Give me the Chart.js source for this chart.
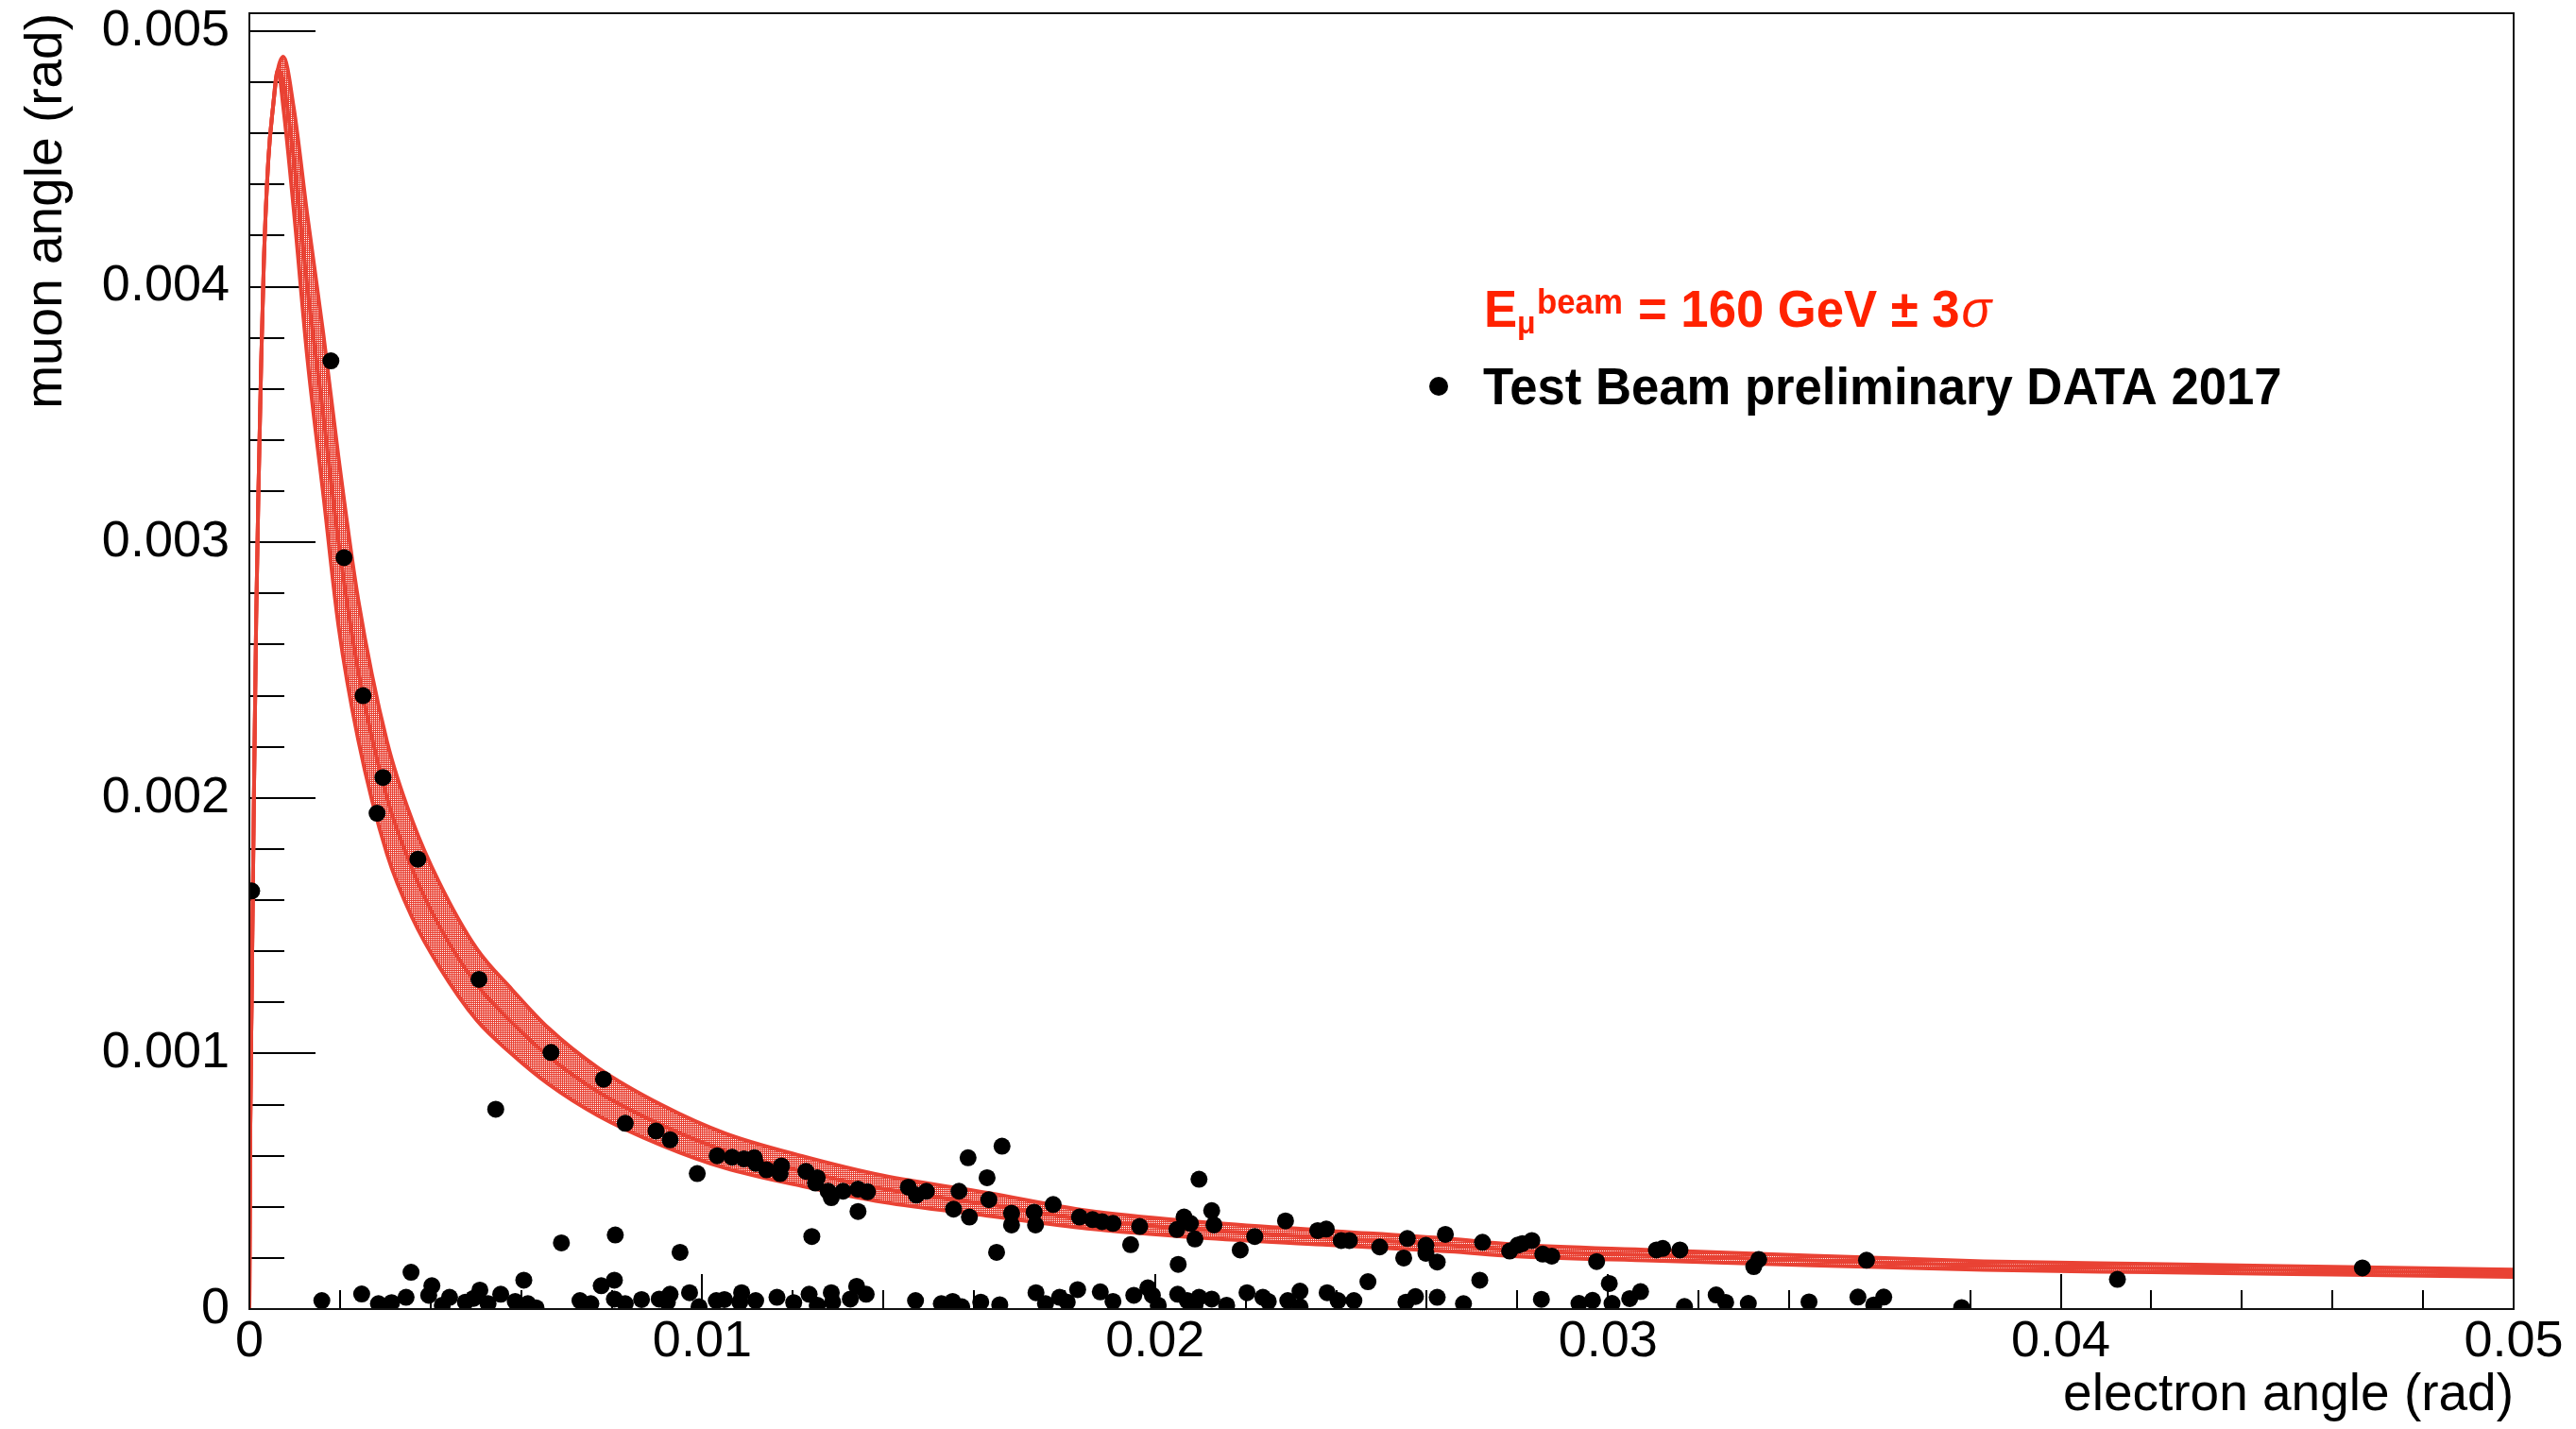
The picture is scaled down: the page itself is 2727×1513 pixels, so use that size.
<!DOCTYPE html>
<html>
<head>
<meta charset="utf-8">
<title>muon angle vs electron angle</title>
<script src="https://cdn.jsdelivr.net/npm/chart.js"></script>
<style>
    html, body { margin: 0; padding: 0; background: #fff; }
    #wrap { width: 2727px; height: 1513px; }
</style>
</head>
<body>
<div id="wrap"><canvas id="can"></canvas></div>
<script>
// test beam events: electron angle (x) and muon angle (y), in rad
var electronAngle = [
    0.00005, 0.0018, 0.00209, 0.00251, 0.00295, 0.00282, 0.00372, 0.00507,
    0.00666, 0.00782, 0.00830, 0.00898, 0.00544, 0.00689, 0.00808,
    0.00160, 0.00248, 0.00285, 0.00314, 0.00346, 0.00357, 0.00403, 0.00396, 0.00426, 0.00442,
    0.00477, 0.00495, 0.00509, 0.00527, 0.00555, 0.00587, 0.00606, 0.00615, 0.00633, 0.00730,
    0.00754, 0.00777, 0.00806, 0.00806, 0.00830, 0.00866, 0.00905,
    0.00929, 0.00989, 0.00951, 0.01033, 0.01066, 0.01092, 0.01115, 0.01118, 0.01142, 0.01175,
    0.01172, 0.01229, 0.01254, 0.01250, 0.01278, 0.01285, 0.01311, 0.01344, 0.01365, 0.01344,
    0.01242, 0.01455, 0.01473, 0.01495, 0.01567, 0.01555, 0.01590, 0.01587, 0.01629, 0.01633,
    0.01662, 0.01650, 0.01683, 0.01683, 0.01733, 0.01736, 0.01775, 0.01833,
    0.00929, 0.00923, 0.00972, 0.00993, 0.01031, 0.01049, 0.01087, 0.01083, 0.01118, 0.01165,
    0.01202, 0.01236, 0.01254, 0.01285, 0.01288, 0.01327, 0.01341, 0.01362, 0.01471, 0.01528,
    0.01553, 0.01573, 0.01615, 0.01657, 0.01737, 0.01758, 0.01789, 0.01806, 0.01829,
    0.01862, 0.01883, 0.01907, 0.01946, 0.01966, 0.02051, 0.02064, 0.02048, 0.02078, 0.02088,
    0.02097, 0.02125, 0.02130, 0.02188, 0.02220, 0.02288, 0.02359, 0.02378, 0.02411, 0.02429,
    0.02496, 0.02470, 0.02549, 0.02557, 0.02598, 0.02598, 0.02623, 0.02641, 0.02717, 0.02723, 0.02783,
    0.01879, 0.01907, 0.01953, 0.01984, 0.01994, 0.02007, 0.02050, 0.02071, 0.02088, 0.02097,
    0.02125, 0.02158, 0.02203, 0.02238, 0.02250, 0.02293, 0.02320, 0.02320, 0.02380, 0.02404,
    0.02439, 0.02554, 0.02575, 0.02623, 0.02681,
    0.02801, 0.02832, 0.02811, 0.02856, 0.02876, 0.02975, 0.03003, 0.03009, 0.03107, 0.03121,
    0.03159, 0.03048, 0.03072, 0.02966, 0.02936, 0.02853, 0.03169, 0.03239, 0.03260, 0.03310,
    0.03333, 0.03322, 0.03444, 0.03552, 0.03571, 0.03587, 0.03609, 0.03781, 0.04125, 0.04666
];
var muonAngle = [
    0.001636, 0.00371, 0.00294, 0.00240, 0.00208, 0.00194, 0.00176, 0.00129,
    0.001004, 0.000899, 0.000727, 0.000697, 0.000782, 0.000259, 0.000290,
    0.000033, 0.000059, 0.000021, 0.000025, 0.000046, 0.000144, 0.000091, 0.000054, 0.000015, 0.000046,
    0.000027, 0.000042, 0.000074, 0.000021, 0.000058, 0.000030, 0.000113, 0.000021, 0.000005, 0.000033,
    0.000021, 0.000091, 0.000113, 0.000039, 0.000021, 0.000037, 0.000039,
    0.000662, 0.000530, 0.000222, 0.000600, 0.000594, 0.000588, 0.000592, 0.000570, 0.000545, 0.000560,
    0.000530, 0.000539, 0.000514, 0.000493, 0.000461, 0.000436, 0.000461, 0.000469, 0.000459, 0.000382,
    0.000284, 0.000477, 0.000446, 0.000461, 0.000461, 0.000391, 0.000360, 0.000592, 0.000514, 0.000428,
    0.000637, 0.000222, 0.000375, 0.000329, 0.000379, 0.000329, 0.000409, 0.000360,
    0.000058, 0.000027, 0.000064, 0.000009, 0.000033, 0.000037, 0.000064, 0.000027, 0.000033, 0.000046,
    0.000025, 0.000058, 0.000015, 0.000064, 0.000027, 0.000039, 0.000089, 0.000058, 0.000033, 0.000021,
    0.000030, 0.000009, 0.000027, 0.000017, 0.000064, 0.000021, 0.000046, 0.000027, 0.000076,
    0.000350, 0.000342, 0.000335, 0.000252, 0.000323, 0.000175, 0.000360, 0.000311, 0.000335, 0.000274,
    0.000508, 0.000385, 0.000329, 0.000231, 0.000284, 0.000345, 0.000307, 0.000313, 0.000268, 0.000268,
    0.000243, 0.000107, 0.000200, 0.000276, 0.000249, 0.000218, 0.000184, 0.000292, 0.000113, 0.000261, 0.000227,
    0.000067, 0.000030, 0.000054, 0.000083, 0.000054, 0.000015, 0.000058, 0.000033, 0.000015, 0.000046,
    0.000039, 0.000015, 0.000064, 0.000046, 0.000030, 0.000033, 0.000070, 0.000009, 0.000064, 0.000033,
    0.000033, 0.000027, 0.000049, 0.000046, 0.000021,
    0.000250, 0.000268, 0.000256, 0.000215, 0.000207, 0.000186, 0.000100, 0.000022, 0.000231, 0.000237,
    0.000231, 0.000041, 0.000068, 0.000034, 0.000022, 0.000038, 0.000010, 0.000055, 0.000026, 0.000022,
    0.000194, 0.000166, 0.000028, 0.000047, 0.000191, 0.000016, 0.000047, 0.000006, 0.000116, 0.000161
];

// elastic curve for E_mu beam = 160 GeV, with the +-3 sigma band
var curveX = [
    0, 0.00002, 0.00005, 0.0001, 0.00015, 0.0002, 0.00026, 0.00032, 0.00042, 0.00052,
    0.00063, 0.00075, 0.00098, 0.00128, 0.00163, 0.00197, 0.0024, 0.00304, 0.0036, 0.00419,
    0.00502, 0.0058, 0.0066, 0.0077, 0.0091, 0.0105, 0.0122, 0.014, 0.0163, 0.0185,
    0.021, 0.0237, 0.0265, 0.0279, 0.031, 0.0345, 0.0383, 0.042, 0.046, 0.05
];
var curveMid = [
    0, 0.0007, 0.0012, 0.002, 0.0027, 0.0032, 0.0037, 0.0041, 0.0045, 0.0047,
    0.00485, 0.0048, 0.0045, 0.0040, 0.0035, 0.0030, 0.0025, 0.0020, 0.00172, 0.0015,
    0.00127, 0.00112, 0.00099, 0.00085, 0.00072, 0.00062, 0.00054, 0.00047, 0.00041, 0.00035,
    0.00031, 0.00028, 0.00025, 0.00023, 0.00021, 0.00019, 0.00017, 0.00016, 0.00015, 0.00014
];
var curveLow = [
    0, 0.0007, 0.0012, 0.002, 0.0027, 0.0032, 0.0037, 0.0041, 0.0045, 0.0047,
    0.00485, 0.0047, 0.0043, 0.00372, 0.00319, 0.00267, 0.00223, 0.00178, 0.00153, 0.00134,
    0.00113, 0.000997, 0.000881, 0.000757, 0.000641, 0.000552, 0.000481, 0.000418, 0.000365, 0.000315,
    0.000279, 0.000252, 0.000225, 0.000207, 0.000189, 0.000171, 0.000153, 0.000144, 0.000135, 0.000126
];
var curveHigh = [
    0, 0.0007, 0.0012, 0.002, 0.0027, 0.0032, 0.0037, 0.0041, 0.0045, 0.0047,
    0.00485, 0.0049, 0.0047, 0.00428, 0.00382, 0.00333, 0.00278, 0.00222, 0.00191, 0.00167,
    0.00141, 0.00125, 0.0011, 0.000944, 0.000799, 0.000688, 0.000599, 0.000522, 0.000455, 0.000385,
    0.000341, 0.000308, 0.000275, 0.000253, 0.000231, 0.000209, 0.000187, 0.000176, 0.000165, 0.000154
];

var xTicks = [0, 0.01, 0.02, 0.03, 0.04, 0.05];
var yTicks = [0, 0.001, 0.002, 0.003, 0.004, 0.005];

var RED = '#e94234';
var FONT = '"Liberation Sans", Arial, Helvetica, sans-serif';

Chart.defaults.font.family = FONT;
Chart.defaults.color = '#000';

// red band with white dots, like the ROOT fill style
function dotPattern(ctx) {
    var c = document.createElement('canvas');
    c.width = 2;
    c.height = 2;
    var g = c.getContext('2d');
    g.fillStyle = RED;
    g.fillRect(0, 0, 2, 2);
    g.fillStyle = '#ffffff';
    g.fillRect(0, 0, 1, 1);
    return ctx.createPattern(c, 'repeat');
}

function toPoints(xs, ys) {
    var out = [];
    for (var i = 0; i < xs.length; i++) {
        out.push({x: xs[i], y: ys[i]});
    }
    return out;
}

// ROOT style ticks, drawn inside the frame
var insideTicks = {
    id: 'insideTicks',
    beforeDatasetsDraw: function (chart) {
        var ctx = chart.ctx;
        var a = chart.chartArea;
        var xs = chart.scales.x;
        var ys = chart.scales.y;
        ctx.save();
        ctx.strokeStyle = '#000';
        ctx.lineWidth = 2;
        ctx.beginPath();
        for (var i = 0; i < xTicks.length; i++) {
            var px = Math.round(xs.getPixelForValue(xTicks[i]));
            ctx.moveTo(px, a.bottom);
            ctx.lineTo(px, a.bottom - 37);
            if (i < xTicks.length - 1) {
                var sx = (xTicks[i + 1] - xTicks[i]) / 5;
                for (var k = 1; k < 5; k++) {
                    var mx = Math.round(xs.getPixelForValue(xTicks[i] + k * sx));
                    ctx.moveTo(mx, a.bottom);
                    ctx.lineTo(mx, a.bottom - 20);
                }
            }
        }
        for (var j = 0; j < yTicks.length; j++) {
            var py = Math.round(ys.getPixelForValue(yTicks[j]));
            ctx.moveTo(a.left, py);
            ctx.lineTo(a.left + 70, py);
            if (j < yTicks.length - 1) {
                var sy = (yTicks[j + 1] - yTicks[j]) / 5;
                for (var m = 1; m < 5; m++) {
                    var my = Math.round(ys.getPixelForValue(yTicks[j] + m * sy));
                    ctx.moveTo(a.left, my);
                    ctx.lineTo(a.left + 37, my);
                }
            }
        }
        ctx.stroke();
        ctx.restore();
    },
    afterDraw: function (chart) {
        var ctx = chart.ctx;
        var a = chart.chartArea;
        ctx.save();
        ctx.strokeStyle = '#111';
        ctx.lineWidth = 2;
        ctx.strokeRect(a.left, a.top, a.right - a.left, a.bottom - a.top);
        ctx.restore();
    }
};

function squeezed(ctx, text, x, y, font) {
    ctx.save();
    ctx.font = font;
    ctx.translate(x, y);
    ctx.scale(0.94, 1);
    ctx.fillText(text, 0, 0);
    var w = ctx.measureText(text).width * 0.94;
    ctx.restore();
    return w;
}

// the two legend lines in the upper right
var beamLegend = {
    id: 'beamLegend',
    afterDraw: function (chart) {
        var ctx = chart.ctx;
        ctx.save();
        ctx.textAlign = 'left';
        ctx.textBaseline = 'alphabetic';
        ctx.fillStyle = '#ff2200';
        squeezed(ctx, 'E', 1571, 346, 'bold 56px ' + FONT);
        squeezed(ctx, 'μ', 1606, 353, 'bold 34px ' + FONT);
        squeezed(ctx, 'beam', 1627, 332, 'bold 37px ' + FONT);
        var w = squeezed(ctx, '= 160 GeV ± 3', 1734, 346, 'bold 56px ' + FONT);
        squeezed(ctx, 'σ', 1734 + w + 2, 346, 'italic 56px ' + FONT);

        ctx.fillStyle = '#000';
        ctx.beginPath();
        ctx.arc(1523, 409, 10, 0, 2 * Math.PI);
        ctx.fill();
        squeezed(ctx, 'Test Beam preliminary DATA 2017', 1570, 428, 'bold 56px ' + FONT);
        ctx.restore();
    }
};

var ctx = document.getElementById('can').getContext('2d');
var band = dotPattern(ctx);

window.myChart = new Chart(ctx, {
    type: 'scatter',
    data: {
        datasets: [
            {
                label: 'Test Beam preliminary DATA 2017',
                data: toPoints(electronAngle, muonAngle),
                showLine: false,
                pointRadius: 9,
                pointBackgroundColor: '#000',
                pointBorderWidth: 0,
                order: 0
            },
            {
                label: 'upper edge',
                data: toPoints(curveX, curveHigh),
                showLine: true,
                pointRadius: 0,
                borderColor: RED,
                borderWidth: 4,
                backgroundColor: band,
                fill: '+1',
                cubicInterpolationMode: 'monotone',
                order: 3
            },
            {
                label: 'lower edge',
                data: toPoints(curveX, curveLow),
                showLine: true,
                pointRadius: 0,
                borderColor: RED,
                borderWidth: 4,
                fill: false,
                cubicInterpolationMode: 'monotone',
                order: 2
            },
            {
                label: 'E beam = 160 GeV',
                data: toPoints(curveX, curveMid),
                showLine: true,
                pointRadius: 0,
                borderColor: RED,
                borderWidth: 4,
                fill: false,
                cubicInterpolationMode: 'monotone',
                order: 1
            }
        ]
    },
    options: {
        responsive: true,
        maintainAspectRatio: false,
        devicePixelRatio: 1,
        animation: false,
        layout: {
            padding: {left: 0, top: 14, right: 66, bottom: 0}
        },
        plugins: {
            legend: {display: false},
            tooltip: {enabled: false}
        },
        scales: {
            x: {
                type: 'linear',
                position: 'bottom',
                min: 0,
                max: 0.05,
                grid: {display: false, drawTicks: false},
                border: {display: false},
                afterBuildTicks: function (axis) {
                    axis.ticks = xTicks.map(function (v) { return {value: v}; });
                },
                afterFit: function (axis) {
                    axis.height = 127;
                },
                ticks: {
                    autoSkip: false,
                    maxRotation: 0,
                    padding: 3,
                    color: '#000',
                    font: {size: 54},
                    callback: function (v) { return String(v); }
                },
                title: {
                    display: true,
                    text: 'electron angle (rad)',
                    align: 'end',
                    color: '#000',
                    font: {size: 55},
                    padding: {top: 0, bottom: 2}
                }
            },
            y: {
                type: 'linear',
                position: 'left',
                min: 0,
                max: 0.00507,
                grid: {display: false, drawTicks: false},
                border: {display: false},
                afterBuildTicks: function (axis) {
                    axis.ticks = yTicks.map(function (v) { return {value: v}; });
                },
                afterFit: function (axis) {
                    axis.width = 264;
                    axis.paddingTop = 0;
                    axis.paddingBottom = 0;
                },
                ticks: {
                    autoSkip: false,
                    padding: 21,
                    color: '#000',
                    font: {size: 54},
                    callback: function (v) { return String(v); }
                },
                title: {
                    display: true,
                    text: 'muon angle (rad)',
                    align: 'end',
                    color: '#000',
                    font: {size: 55},
                    padding: {top: 17, bottom: 0}
                }
            }
        }
    },
    plugins: [insideTicks, beamLegend]
});
</script>
</body>
</html>
